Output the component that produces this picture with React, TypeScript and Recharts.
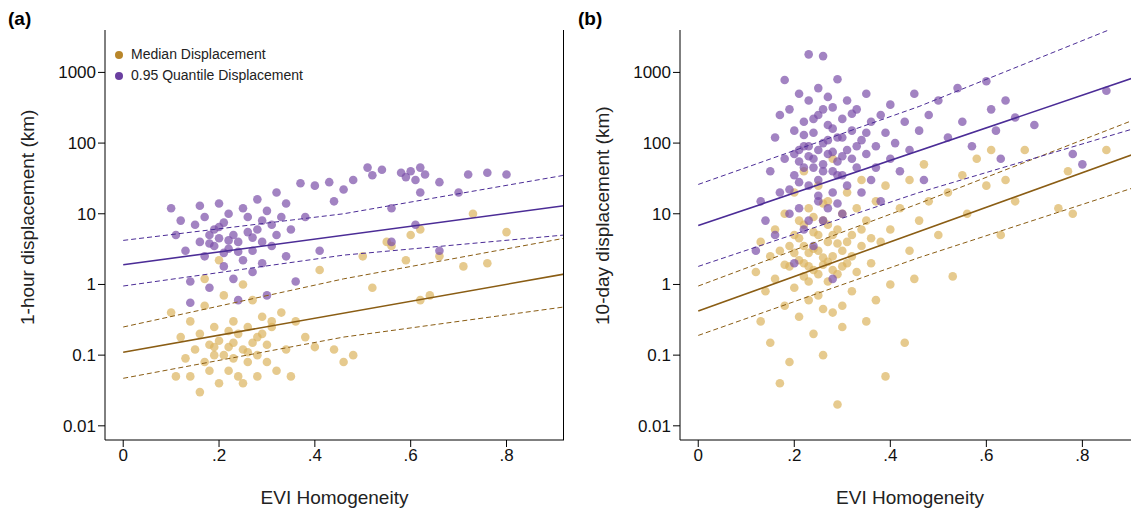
import React from "react";
import { ScatterChart, Scatter, XAxis, YAxis } from "recharts";

const xTicks = [0, 0.2, 0.4, 0.6, 0.8];
const yTicks = [0.01, 0.1, 1, 10, 100, 1000];
const seriesNames = ["Median Displacement", "0.95 Quantile Displacement"];

const aQuantile = [[0.10,12],[0.11,5],[0.12,8],[0.13,3],[0.14,1.1],[0.14,0.55],[0.15,7],[0.16,13],[0.16,4],[0.17,2.5],[0.17,9],[0.18,5],[0.18,0.9],[0.19,3.5],[0.19,6],[0.20,14],[0.20,4.5],[0.21,2.8],[0.21,1.8],[0.21,7.5],[0.22,3.2],[0.22,10],[0.23,5],[0.23,1.2],[0.24,4],[0.24,0.6],[0.25,12],[0.25,2.2],[0.26,5.5],[0.26,9],[0.27,3],[0.27,1.5],[0.28,6],[0.28,16],[0.29,4],[0.29,2],[0.30,11],[0.30,0.7],[0.31,7],[0.31,3.5],[0.32,20],[0.32,5],[0.33,9],[0.34,2.5],[0.34,14],[0.35,6],[0.36,1.1],[0.37,27],[0.38,9],[0.40,25],[0.41,3],[0.43,28],[0.44,15],[0.46,22],[0.48,30],[0.51,45],[0.52,35],[0.54,42],[0.56,12],[0.58,38],[0.59,33],[0.60,40],[0.61,30],[0.62,45],[0.62,20],[0.63,36],[0.66,28],[0.70,20],[0.72,36],[0.76,38],[0.80,36],[0.56,4],[0.61,7],[0.66,3],[0.18,3.8],[0.22,4.2],[0.24,2.9],[0.27,4.6],[0.20,6.5],[0.29,8]];
const aMedian = [[0.10,0.4],[0.11,0.05],[0.12,0.18],[0.13,0.09],[0.14,0.05],[0.14,0.3],[0.15,0.12],[0.16,0.03],[0.16,0.2],[0.17,0.08],[0.17,0.5],[0.18,0.14],[0.18,0.06],[0.19,0.1],[0.19,0.25],[0.20,0.04],[0.20,0.16],[0.21,0.1],[0.21,0.7],[0.22,0.06],[0.22,0.13],[0.23,0.3],[0.23,0.09],[0.24,0.2],[0.24,0.05],[0.25,0.12],[0.25,0.04],[0.26,0.25],[0.26,0.08],[0.27,0.15],[0.27,0.6],[0.28,0.1],[0.28,0.05],[0.29,0.2],[0.29,0.35],[0.30,0.08],[0.30,0.14],[0.31,0.25],[0.32,0.06],[0.33,0.4],[0.34,0.12],[0.35,0.05],[0.36,0.3],[0.38,0.18],[0.40,0.13],[0.41,1.6],[0.44,0.12],[0.46,0.08],[0.48,0.1],[0.50,2.5],[0.52,0.9],[0.55,4],[0.56,3.5],[0.59,2.2],[0.60,5],[0.62,6],[0.62,0.6],[0.64,0.7],[0.66,2.5],[0.71,1.8],[0.73,10],[0.76,2.0],[0.80,5.5],[0.17,1.2],[0.20,2.2],[0.25,1],[0.31,0.3],[0.19,0.13],[0.22,0.22],[0.26,0.11],[0.28,0.18],[0.23,0.15]];

const bQuantile = [[0.12,3],[0.13,15],[0.14,8],[0.15,40],[0.16,120],[0.16,5],[0.17,250],[0.17,20],[0.18,780],[0.18,60],[0.19,10],[0.19,300],[0.20,150],[0.20,35],[0.20,2],[0.21,500],[0.21,80],[0.21,12],[0.22,200],[0.22,45],[0.22,6],[0.23,1800],[0.23,400],[0.23,90],[0.23,25],[0.24,140],[0.24,60],[0.24,3.5],[0.25,600],[0.25,250],[0.25,30],[0.25,15],[0.26,1700],[0.26,100],[0.26,50],[0.26,8],[0.27,450],[0.27,180],[0.27,70],[0.28,320],[0.28,40],[0.28,20],[0.28,1.2],[0.29,800],[0.29,120],[0.29,55],[0.30,220],[0.30,35],[0.30,10],[0.31,400],[0.31,80],[0.31,25],[0.32,150],[0.32,60],[0.33,300],[0.33,45],[0.34,110],[0.34,20],[0.35,500],[0.35,70],[0.36,200],[0.36,30],[0.37,90],[0.38,250],[0.38,15],[0.39,140],[0.40,350],[0.40,60],[0.41,100],[0.42,40],[0.43,200],[0.44,80],[0.45,500],[0.46,150],[0.47,30],[0.48,250],[0.50,400],[0.52,120],[0.54,600],[0.55,200],[0.57,90],[0.60,750],[0.61,300],[0.62,150],[0.63,60],[0.64,400],[0.66,230],[0.70,180],[0.78,70],[0.80,50],[0.85,550],[0.20,70],[0.21,55],[0.22,90],[0.23,65],[0.24,45],[0.25,80],[0.26,40],[0.27,110],[0.28,75],[0.29,35],[0.30,65],[0.22,130],[0.24,220],[0.26,300],[0.28,160],[0.30,120],[0.32,260],[0.25,18],[0.27,12],[0.23,8],[0.19,22],[0.33,90],[0.35,140],[0.37,45],[0.21,28],[0.29,14]];
const bMedian = [[0.12,1.5],[0.13,0.3],[0.13,4],[0.14,0.8],[0.15,2.5],[0.15,0.15],[0.16,6],[0.16,1.2],[0.17,0.04],[0.17,3],[0.18,0.5],[0.18,10],[0.19,1.8],[0.19,0.08],[0.20,5],[0.20,0.9],[0.20,20],[0.21,2.2],[0.21,0.35],[0.21,8],[0.22,1.3],[0.22,3.5],[0.22,40],[0.23,0.6],[0.23,12],[0.23,2.8],[0.24,0.2],[0.24,5.5],[0.24,1.6],[0.25,25],[0.25,3],[0.25,0.7],[0.26,8],[0.26,1.9],[0.26,0.1],[0.27,15],[0.27,4],[0.27,1.1],[0.28,2.5],[0.28,0.4],[0.28,60],[0.29,6],[0.29,1.4],[0.29,0.02],[0.30,10],[0.30,3],[0.30,0.5],[0.31,20],[0.31,2],[0.32,5],[0.32,0.8],[0.33,12],[0.33,1.5],[0.34,30],[0.34,3.5],[0.35,0.3],[0.35,8],[0.36,2],[0.37,15],[0.37,0.6],[0.38,4],[0.39,0.05],[0.39,25],[0.40,6],[0.40,1],[0.42,12],[0.43,0.15],[0.44,3],[0.44,30],[0.45,1.2],[0.46,8],[0.47,50],[0.48,15],[0.50,5],[0.52,20],[0.53,1.3],[0.55,35],[0.56,10],[0.58,60],[0.60,25],[0.61,80],[0.63,5],[0.64,30],[0.66,15],[0.68,80],[0.75,12],[0.77,40],[0.78,10],[0.85,80],[0.20,2.8],[0.21,4.5],[0.22,2],[0.23,1.8],[0.24,3.2],[0.25,5],[0.26,2.4],[0.27,7],[0.28,1.6],[0.29,3.8],[0.30,1.8],[0.22,7],[0.24,9],[0.26,14],[0.28,5],[0.23,1.1],[0.25,1.4],[0.27,2.1],[0.31,4],[0.32,2.5],[0.34,6],[0.36,4.5],[0.19,3.5],[0.18,1.9],[0.30,0.25],[0.26,0.45]];

const aMedFit = [[0, 0.11], [0.92, 1.4]];
const aMedHi = [[0, 0.25], [0.46, 1.2], [0.92, 4.5]];
const aMedLo = [[0, 0.047], [0.46, 0.18], [0.92, 0.48]];
const aQFit = [[0, 1.9], [0.92, 13]];
const aQHi = [[0, 4.2], [0.46, 10], [0.92, 35]];
const aQLo = [[0, 0.95], [0.46, 2.6], [0.92, 5]];
const bMedFit = [[0, 0.42], [0.92, 75]];
const bMedHi = [[0, 0.95], [0.46, 14], [0.92, 230]];
const bMedLo = [[0, 0.19], [0.46, 2.4], [0.92, 25]];
const bQFit = [[0, 6.8], [0.92, 900]];
const bQHi = [[0, 26], [0.46, 330], [0.92, 6000]];
const bQLo = [[0, 1.8], [0.46, 20], [0.92, 170]];

const BROWN = "#dcb35e";
const PURPLE = "#7a4fa8";
const BROWN_L = "#8a5d14";
const PURPLE_L = "#4b2c96";
const font = "'Liberation Sans', Arial, sans-serif";

const toPts = (a: number[][]) => a.map(([x, y]) => ({ x, y }));
const noShape = () => <g />;
const dot = (color: string) => (p: any) => <circle cx={p.cx} cy={p.cy} r={4.3} fill={color} fillOpacity={0.7} />;
const fmtX = (v: number) => (v === 0 ? "0" : String(v).replace("0.", "."));
const fmtY = (v: number) => String(v);

function Panel({ label, ytitle, med, q, lines, ml }: any) {
  const mr = ml === 110 ? 0 : 6;
  return (
    <div style={{ position: "relative", width: 570, height: 519 }}>
      <ScatterChart width={570} height={519} margin={{ top: 30, right: mr, bottom: 45, left: ml - 70 }}>
        <XAxis type="number" dataKey="x" domain={[-0.038, 0.92]} ticks={xTicks} tickFormatter={fmtX} allowDataOverflow
          stroke="#000" tick={{ fill: "#111", fontSize: 17, fontFamily: font }} tickSize={7} height={34}
          label={{ value: "EVI Homogeneity", position: "insideBottom", offset: -30, fill: "#222", fontSize: 19, fontFamily: font }} />
        <YAxis type="number" dataKey="y" scale="log" domain={[0.0063, 3981]} ticks={yTicks} tickFormatter={fmtY} allowDataOverflow
          stroke="#000" tick={{ fill: "#111", fontSize: 17, fontFamily: font }} tickSize={7} width={70}
          label={{ value: ytitle, angle: -90, position: "insideLeft", offset: -8, dy: 90, fill: "#222", fontSize: 19, fontFamily: font }} />
        <Scatter data={toPts(med)} shape={dot(BROWN)} isAnimationActive={false} />
        <Scatter data={toPts(q)} shape={dot(PURPLE)} isAnimationActive={false} />
        {lines.map((l: any, i: number) => (
          <Scatter key={i} data={toPts(l.d)} shape={noShape} isAnimationActive={false}
            line={{ stroke: l.c, strokeWidth: l.dash ? 1 : 1.6, strokeDasharray: l.dash ? "5 3" : undefined }} />
        ))}
      </ScatterChart>
      {mr > 0 && <div style={{ position: "absolute", left: 570 - mr - 1, top: 30, width: 1, height: 410, background: "#000" }} />}
      <div style={{ position: "absolute", left: 8, top: 8, fontFamily: font, fontWeight: "bold", fontSize: 19 }}>{label}</div>
    </div>
  );
}

export default function App() {
  return (
    <div style={{ margin: -8, display: "flex", width: 1139, height: 519, background: "#fff", position: "relative" }}>
      <Panel label="(a)" ytitle="1-hour displacement (km)" med={aMedian} q={aQuantile} ml={105}
        lines={[
          { d: aMedFit, c: BROWN_L }, { d: aMedHi, c: BROWN_L, dash: 1 }, { d: aMedLo, c: BROWN_L, dash: 1 },
          { d: aQFit, c: PURPLE_L }, { d: aQHi, c: PURPLE_L, dash: 1 }, { d: aQLo, c: PURPLE_L, dash: 1 },
        ]} />
      <Panel label="(b)" ytitle="10-day displacement (km)" med={bMedian} q={bQuantile} ml={110}
        lines={[
          { d: bMedFit, c: BROWN_L }, { d: bMedHi, c: BROWN_L, dash: 1 }, { d: bMedLo, c: BROWN_L, dash: 1 },
          { d: bQFit, c: PURPLE_L }, { d: bQHi, c: PURPLE_L, dash: 1 }, { d: bQLo, c: PURPLE_L, dash: 1 },
        ]} />
      <div style={{ position: "absolute", left: 115, top: 44, fontFamily: font, fontSize: 14, color: "#222", lineHeight: "21px" }}>
        <div><span style={{ display: "inline-block", width: 8, height: 8, borderRadius: 4, background: "#b8862b", marginRight: 8 }} />{seriesNames[0]}</div>
        <div><span style={{ display: "inline-block", width: 8, height: 8, borderRadius: 4, background: "#6a3fa0", marginRight: 8 }} />{seriesNames[1]}</div>
      </div>
    </div>
  );
}
